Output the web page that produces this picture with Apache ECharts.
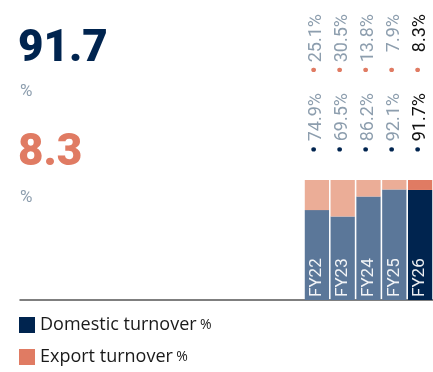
<!DOCTYPE html>
<html><head><meta charset="utf-8">
<script src="https://cdn.jsdelivr.net/npm/echarts@6/dist/echarts.min.js"></script>
<style>html,body{margin:0;padding:0;background:#fff}#c{width:433px;height:372px}</style>
</head><body><div id="c"></div>
<script>
const categories = ['FY22', 'FY23', 'FY24', 'FY25', 'FY26'];
const domestic = [74.9, 69.5, 86.2, 92.1, 91.7];
const exportShare = [25.1, 30.5, 13.8, 7.9, 8.3];
const seriesNames = ['Domestic turnover', 'Export turnover'];

const navy = '#00244F', salmon = '#E07B63', steel = '#5B7799', peach = '#EBAD97', grey = '#8D9EAE';
const last = categories.length - 1;
const pct = v => v.toFixed(1) + '%';
const FF = 'Roboto';

const rich = {
  dd: {color: navy, fontSize: 22, width: 7, align: 'left', fontFamily: FF},
  ed: {color: salmon, fontSize: 22, width: 27, align: 'right', fontFamily: FF},
  g1: {color: grey, fontSize: 18, width: 53, align: 'right', fontFamily: FF},
  g2: {color: grey, fontSize: 18, width: 52, align: 'right', fontFamily: FF},
  b1: {color: '#111', fontSize: 18, width: 53, align: 'right', fontFamily: FF},
  b2: {color: '#111', fontSize: 18, width: 52, align: 'right', fontFamily: FF}
};

const chart = echarts.init(document.getElementById('c'));
chart.setOption({
  animation: false,
  backgroundColor: '#fff',
  title: [
    {text: domestic[last].toFixed(1), left: 18, top: 28, padding: 0,
     textStyle: {fontSize: 44, fontWeight: 900, color: navy, fontFamily: FF}},
    {text: '%', left: 20, top: 83, padding: 0,
     textStyle: {fontSize: 17, fontWeight: 'normal', color: grey, fontFamily: FF}},
    {text: exportShare[last].toFixed(1), left: 18, top: 132, padding: 0,
     textStyle: {fontSize: 44, fontWeight: 900, color: salmon, fontFamily: FF}},
    {text: '%', left: 20, top: 189, padding: 0,
     textStyle: {fontSize: 17, fontWeight: 'normal', color: grey, fontFamily: FF}}
  ],
  legend: {
    data: seriesNames, orient: 'vertical', left: 19, top: 316, itemGap: 14,
    icon: 'rect', itemWidth: 16, itemHeight: 16, padding: 0,
    formatter: n => '{n|' + n + '} {p|%}',
    textStyle: {rich: {n: {fontSize: 18, color: '#1a1a1a', fontFamily: 'Open Sans'}, p: {fontSize: 14, color: '#1a1a1a', fontFamily: 'Open Sans'}}}
  },
  grid: [
    {left: 304, right: 0, top: 180, bottom: 72},
    {left: 20, right: 0, top: 180, bottom: 72}
  ],
  xAxis: [
    {type: 'category', data: categories, gridIndex: 0, axisLine: {show: false}, axisTick: {show: false}, axisLabel: {show: false}},
    {type: 'value', gridIndex: 1, axisLine: {show: true, onZero: false, lineStyle: {color: '#555', width: 1.5}},
     axisTick: {show: false}, axisLabel: {show: false}, splitLine: {show: false}}
  ],
  yAxis: [
    {type: 'value', gridIndex: 0, min: 0, max: 100, show: false},
    {type: 'value', gridIndex: 1, show: false}
  ],
  series: [
    {name: seriesNames[0], type: 'bar', stack: 't', barCategoryGap: '6%', color: navy,
     data: domestic.map((v, i) => ({value: v, itemStyle: {color: i === last ? navy : steel}})),
     label: {show: true, position: 'insideBottom', distance: 3, rotate: 90, align: 'left', verticalAlign: 'middle',
       formatter: p => categories[p.dataIndex], color: 'rgba(255,255,255,0.92)', fontSize: 17, fontFamily: FF}},
    {name: seriesNames[1], type: 'bar', stack: 't', color: salmon,
     data: exportShare.map((v, i) => ({value: v, itemStyle: {color: i === last ? salmon : peach}})),
     label: {show: true, position: 'top', distance: 27, rotate: 90, align: 'left', verticalAlign: 'middle',
       formatter: p => {
         const i = p.dataIndex, c = i === last ? 'b' : 'g';
         return '{dd|•}{' + c + '1|' + pct(domestic[i]) + '}{ed|•}{' + c + '2|' + pct(exportShare[i]) + '}';
       }, rich: rich}}
  ]
});
</script></body></html>
